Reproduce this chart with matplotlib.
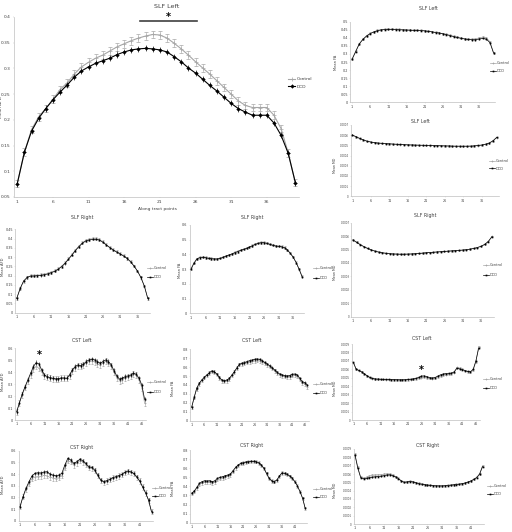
import matplotlib
matplotlib.use('Agg')
import matplotlib.pyplot as plt
from matplotlib.lines import Line2D
import numpy as np

W, H = 512, 532

# ---------------- data ----------------
# SLF Left AFD (big panel)
main_ctrl = [0.076, 0.137, 0.181, 0.206, 0.222, 0.240, 0.259, 0.272, 0.289, 0.303, 0.312, 0.320, 0.326, 0.334,
             0.342, 0.348, 0.354, 0.359, 0.363, 0.366, 0.365, 0.359, 0.349, 0.338, 0.326, 0.313, 0.301, 0.289,
             0.276, 0.263, 0.250, 0.237, 0.228, 0.224, 0.224, 0.224, 0.209, 0.183, 0.136, 0.078]
main_dcd = [0.076, 0.137, 0.178, 0.203, 0.222, 0.239, 0.254, 0.268, 0.283, 0.295, 0.303, 0.310, 0.315, 0.320,
            0.327, 0.332, 0.336, 0.338, 0.339, 0.338, 0.336, 0.332, 0.323, 0.313, 0.301, 0.291, 0.279, 0.267,
            0.256, 0.244, 0.232, 0.222, 0.215, 0.209, 0.209, 0.209, 0.194, 0.170, 0.135, 0.078]

# SLF Left FA
slfl_fa_ctrl = [0.268, 0.316, 0.363, 0.392, 0.413, 0.428, 0.438, 0.446, 0.451, 0.453, 0.454, 0.454, 0.453, 0.452,
                0.451, 0.450, 0.449, 0.448, 0.447, 0.446, 0.444, 0.441, 0.438, 0.434, 0.430, 0.426, 0.421, 0.415,
                0.409, 0.403, 0.398, 0.394, 0.392, 0.391, 0.393, 0.400, 0.404, 0.400, 0.376, 0.308]
slfl_fa_dcd = [0.266, 0.314, 0.362, 0.390, 0.411, 0.426, 0.436, 0.444, 0.449, 0.451, 0.452, 0.452, 0.451, 0.450,
               0.449, 0.448, 0.447, 0.446, 0.446, 0.445, 0.443, 0.440, 0.437, 0.433, 0.430, 0.425, 0.420, 0.414,
               0.408, 0.402, 0.397, 0.393, 0.390, 0.388, 0.388, 0.393, 0.396, 0.392, 0.370, 0.305]

# SLF Left MD
slfl_md_ctrl = [0.000600, 0.000583, 0.000566, 0.000552, 0.000540, 0.000532, 0.000526, 0.000522, 0.000519, 0.000516,
                0.000514, 0.000512, 0.000510, 0.000508, 0.000506, 0.000505, 0.000503, 0.000502, 0.000501, 0.000500,
                0.000499, 0.000498, 0.000497, 0.000496, 0.000495, 0.000494, 0.000493, 0.000492, 0.000491, 0.000491,
                0.000491, 0.000491, 0.000492, 0.000494, 0.000497, 0.000502, 0.000510, 0.000521, 0.000543, 0.000576]
slfl_md_dcd = [0.000602, 0.000585, 0.000568, 0.000553, 0.000541, 0.000533, 0.000527, 0.000523, 0.000520, 0.000517,
               0.000515, 0.000513, 0.000511, 0.000509, 0.000507, 0.000505, 0.000504, 0.000503, 0.000502, 0.000501,
               0.000500, 0.000499, 0.000498, 0.000497, 0.000496, 0.000495, 0.000494, 0.000493, 0.000492, 0.000492,
               0.000492, 0.000492, 0.000493, 0.000495, 0.000499, 0.000504, 0.000512, 0.000523, 0.000545, 0.000578]

# SLF Right AFD
slfr_afd_ctrl = [0.077, 0.130, 0.170, 0.189, 0.199, 0.200, 0.202, 0.204, 0.208, 0.212, 0.219, 0.226, 0.237, 0.251,
                 0.269, 0.291, 0.314, 0.338, 0.359, 0.377, 0.390, 0.396, 0.400, 0.400, 0.395, 0.382, 0.367, 0.352,
                 0.340, 0.329, 0.319, 0.307, 0.294, 0.276, 0.252, 0.225, 0.190, 0.144, 0.077]
slfr_afd_dcd = [0.077, 0.131, 0.171, 0.190, 0.198, 0.198, 0.200, 0.201, 0.205, 0.209, 0.216, 0.223, 0.234, 0.248,
                0.266, 0.288, 0.311, 0.335, 0.356, 0.374, 0.387, 0.392, 0.396, 0.396, 0.392, 0.380, 0.365, 0.351,
                0.338, 0.327, 0.317, 0.306, 0.293, 0.275, 0.252, 0.225, 0.190, 0.144, 0.077]

# SLF Right FA
slfr_fa_ctrl = [0.305, 0.342, 0.371, 0.380, 0.382, 0.380, 0.376, 0.373, 0.371, 0.370, 0.374, 0.381, 0.390, 0.397,
                0.404, 0.413, 0.420, 0.429, 0.436, 0.443, 0.451, 0.460, 0.469, 0.476, 0.481, 0.481, 0.476, 0.469,
                0.463, 0.458, 0.456, 0.453, 0.447, 0.431, 0.408, 0.381, 0.345, 0.300, 0.255]
slfr_fa_dcd = [0.299, 0.339, 0.369, 0.378, 0.380, 0.378, 0.373, 0.371, 0.369, 0.369, 0.373, 0.380, 0.389, 0.396,
               0.403, 0.412, 0.419, 0.428, 0.434, 0.441, 0.450, 0.459, 0.468, 0.475, 0.480, 0.480, 0.475, 0.468,
               0.462, 0.457, 0.455, 0.452, 0.446, 0.430, 0.407, 0.380, 0.344, 0.299, 0.249]

# SLF Right MD
slfr_md_ctrl = [0.000573, 0.000555, 0.000538, 0.000522, 0.000509, 0.000498, 0.000489, 0.000482, 0.000477, 0.000473,
                0.000470, 0.000468, 0.000467, 0.000466, 0.000466, 0.000467, 0.000468, 0.000470, 0.000472, 0.000474,
                0.000476, 0.000478, 0.000480, 0.000482, 0.000484, 0.000486, 0.000488, 0.000490, 0.000492, 0.000494,
                0.000496, 0.000499, 0.000503, 0.000508, 0.000515, 0.000525, 0.000539, 0.000561, 0.000598]
slfr_md_dcd = [0.000571, 0.000553, 0.000536, 0.000521, 0.000508, 0.000497, 0.000488, 0.000481, 0.000476, 0.000472,
               0.000469, 0.000467, 0.000466, 0.000465, 0.000465, 0.000466, 0.000467, 0.000469, 0.000471, 0.000473,
               0.000476, 0.000478, 0.000480, 0.000482, 0.000484, 0.000486, 0.000488, 0.000490, 0.000492, 0.000494,
               0.000496, 0.000499, 0.000503, 0.000508, 0.000515, 0.000524, 0.000538, 0.000560, 0.000596]

# CST Left AFD
cstl_afd_ctrl = [0.070, 0.143, 0.213, 0.272, 0.325, 0.378, 0.425, 0.448, 0.433, 0.402, 0.370, 0.358, 0.351, 0.346,
                 0.342, 0.344, 0.349, 0.350, 0.348, 0.372, 0.410, 0.437, 0.452, 0.448, 0.458, 0.478, 0.490, 0.494,
                 0.488, 0.470, 0.458, 0.475, 0.491, 0.476, 0.448, 0.400, 0.355, 0.330, 0.338, 0.352, 0.360, 0.370,
                 0.383, 0.375, 0.336, 0.270, 0.140]
cstl_afd_dcd = [0.070, 0.145, 0.218, 0.279, 0.335, 0.391, 0.447, 0.480, 0.469, 0.419, 0.377, 0.363, 0.355, 0.349,
                0.344, 0.346, 0.352, 0.352, 0.349, 0.377, 0.419, 0.447, 0.461, 0.455, 0.466, 0.489, 0.503, 0.508,
                0.503, 0.489, 0.475, 0.489, 0.503, 0.489, 0.461, 0.413, 0.369, 0.341, 0.349, 0.363, 0.369, 0.377,
                0.391, 0.383, 0.349, 0.293, 0.173]

# CST Left FA
cstl_fa_ctrl = [0.150, 0.258, 0.358, 0.414, 0.452, 0.482, 0.508, 0.533, 0.551, 0.544, 0.516, 0.478, 0.447, 0.440,
                0.447, 0.468, 0.507, 0.546, 0.590, 0.628, 0.638, 0.644, 0.652, 0.660, 0.664, 0.670, 0.673, 0.670,
                0.657, 0.641, 0.625, 0.607, 0.585, 0.560, 0.534, 0.514, 0.502, 0.494, 0.490, 0.492, 0.505, 0.508,
                0.496, 0.460, 0.424, 0.410, 0.380]
cstl_fa_dcd = [0.150, 0.262, 0.363, 0.419, 0.456, 0.486, 0.512, 0.538, 0.557, 0.550, 0.523, 0.486, 0.456, 0.449,
               0.456, 0.475, 0.512, 0.550, 0.594, 0.632, 0.643, 0.650, 0.662, 0.673, 0.680, 0.688, 0.692, 0.688,
               0.673, 0.654, 0.636, 0.617, 0.594, 0.568, 0.542, 0.523, 0.512, 0.505, 0.501, 0.505, 0.520, 0.523,
               0.512, 0.475, 0.437, 0.426, 0.400]

# CST Left MD
cstl_md_ctrl = [0.000680, 0.000601, 0.000585, 0.000568, 0.000546, 0.000523, 0.000503, 0.000490, 0.000484, 0.000482,
                0.000481, 0.000480, 0.000479, 0.000478, 0.000477, 0.000476, 0.000475, 0.000474, 0.000474, 0.000475,
                0.000477, 0.000479, 0.000482, 0.000486, 0.000493, 0.000502, 0.000505, 0.000500, 0.000492, 0.000490,
                0.000496, 0.000510, 0.000522, 0.000532, 0.000538, 0.000540, 0.000545, 0.000562, 0.000622, 0.000612,
                0.000600, 0.000585, 0.000572, 0.000565, 0.000590, 0.000690, 0.000870]
cstl_md_dcd = [0.000683, 0.000603, 0.000587, 0.000570, 0.000548, 0.000525, 0.000505, 0.000492, 0.000486, 0.000484,
               0.000483, 0.000482, 0.000481, 0.000480, 0.000479, 0.000478, 0.000477, 0.000476, 0.000476, 0.000477,
               0.000480, 0.000483, 0.000487, 0.000493, 0.000505, 0.000520, 0.000522, 0.000514, 0.000502, 0.000498,
               0.000503, 0.000520, 0.000535, 0.000545, 0.000550, 0.000552, 0.000555, 0.000570, 0.000612, 0.000605,
               0.000598, 0.000585, 0.000575, 0.000572, 0.000600, 0.000700, 0.000850]

# CST Right AFD
cstr_afd_ctrl = [0.120, 0.204, 0.270, 0.318, 0.360, 0.375, 0.378, 0.380, 0.388, 0.385, 0.372, 0.366, 0.360, 0.368,
                 0.385, 0.455, 0.515, 0.505, 0.478, 0.495, 0.515, 0.503, 0.480, 0.455, 0.448, 0.427, 0.386, 0.346,
                 0.331, 0.340, 0.351, 0.366, 0.374, 0.383, 0.394, 0.410, 0.421, 0.416, 0.402, 0.374, 0.340, 0.289,
                 0.238, 0.176, 0.077]
cstr_afd_dcd = [0.120, 0.206, 0.277, 0.334, 0.383, 0.406, 0.411, 0.409, 0.417, 0.420, 0.400, 0.391, 0.386, 0.391,
                0.406, 0.477, 0.534, 0.520, 0.491, 0.506, 0.526, 0.514, 0.491, 0.463, 0.457, 0.434, 0.391, 0.349,
                0.334, 0.343, 0.354, 0.369, 0.377, 0.386, 0.397, 0.414, 0.426, 0.420, 0.406, 0.377, 0.343, 0.291,
                0.240, 0.177, 0.077]

# CST Right FA
cstr_fa_ctrl = [0.318, 0.342, 0.380, 0.420, 0.436, 0.446, 0.444, 0.446, 0.438, 0.447, 0.472, 0.484, 0.492, 0.504,
                0.512, 0.524, 0.563, 0.602, 0.630, 0.650, 0.658, 0.666, 0.670, 0.673, 0.673, 0.670, 0.658, 0.633,
                0.596, 0.541, 0.486, 0.460, 0.450, 0.468, 0.511, 0.546, 0.540, 0.529, 0.511, 0.486, 0.450, 0.403,
                0.340, 0.267, 0.157]
cstr_fa_dcd = [0.323, 0.349, 0.389, 0.433, 0.451, 0.462, 0.459, 0.462, 0.451, 0.462, 0.488, 0.499, 0.506, 0.517,
               0.525, 0.536, 0.572, 0.609, 0.635, 0.653, 0.660, 0.668, 0.672, 0.675, 0.675, 0.672, 0.660, 0.635,
               0.598, 0.543, 0.488, 0.462, 0.451, 0.470, 0.514, 0.550, 0.543, 0.532, 0.514, 0.488, 0.451, 0.404,
               0.341, 0.268, 0.158]

# CST Right MD
cstr_md_ctrl = [0.000840, 0.000680, 0.000560, 0.000552, 0.000560, 0.000575, 0.000585, 0.000588, 0.000590, 0.000592,
                0.000596, 0.000602, 0.000600, 0.000590, 0.000570, 0.000548, 0.000518, 0.000502, 0.000507, 0.000512,
                0.000507, 0.000497, 0.000487, 0.000479, 0.000473, 0.000468, 0.000464, 0.000461, 0.000459, 0.000458,
                0.000458, 0.000460, 0.000463, 0.000467, 0.000471, 0.000475, 0.000479, 0.000485, 0.000493, 0.000504,
                0.000518, 0.000537, 0.000560, 0.000604, 0.000700]
cstr_md_dcd = [0.000828, 0.000668, 0.000555, 0.000545, 0.000548, 0.000556, 0.000562, 0.000566, 0.000570, 0.000574,
               0.000580, 0.000588, 0.000590, 0.000582, 0.000565, 0.000545, 0.000515, 0.000500, 0.000505, 0.000510,
               0.000505, 0.000495, 0.000485, 0.000478, 0.000472, 0.000467, 0.000463, 0.000460, 0.000458, 0.000457,
               0.000457, 0.000459, 0.000462, 0.000466, 0.000470, 0.000474, 0.000478, 0.000484, 0.000492, 0.000503,
               0.000517, 0.000535, 0.000558, 0.000600, 0.000690]

# standard error per panel (control, dcd)
errors = {
    'main': (0.0075, 0.006), 'slfl_fa': (0.006, 0.005), 'slfl_md': (0.000006, 0.000005),
    'slfr_afd': (0.008, 0.006), 'slfr_fa': (0.008, 0.006), 'slfr_md': (0.000005, 0.000004),
    'cstl_afd': (0.025, 0.018), 'cstl_fa': (0.02, 0.015), 'cstl_md': (0.00001, 0.000008),
    'cstr_afd': (0.022, 0.015), 'cstr_fa': (0.018, 0.012), 'cstr_md': (0.000012, 0.000008),
}

# ---------------- layout (pixels) ----------------
# name, title, ylabel, ctrl, dcd, (ymin, ymax, ystep), is_md, box(x0, x1, top, bottom),
# title xy, ylabel xy, legend (x, ycenter, gap)
panels = [
    ('main', 'SLF Left', 'Mean AFD', main_ctrl, main_dcd, (0.05, 0.4, 0.05), False,
     (13.7, 298.9, 17, 197), (167, 6), (1, 107), (288, 83, 8)),
    ('slfl_fa', 'SLF Left', 'Mean FA', slfl_fa_ctrl, slfl_fa_dcd, (0, 0.5, 0.05), False,
     (350.2, 495.4, 21.7, 102.3), (428, 8), (336, 62), (490, 67, 8)),
    ('slfl_md', 'SLF Left', 'Mean MD', slfl_md_ctrl, slfl_md_dcd, (0, 0.0007, 0.0001), True,
     (350.5, 498.5, 125, 196.3), (420, 121), (335, 165), (489, 165, 6.5)),
    ('slfr_md', 'SLF Right', 'Mean MD', slfr_md_ctrl, slfr_md_dcd, (0, 0.0007, 0.0001), True,
     (351.2, 493.8, 222.7, 316.7), (425, 216), (335, 272), (483, 270, 9)),
    ('cstl_md', 'CST Left', 'Mean MD', cstl_md_ctrl, cstl_md_dcd, (0, 0.0009, 0.0001), True,
     (352, 480, 344, 420), (422, 339), (335, 388), (483, 383.5, 9)),
    ('cstr_md', 'CST Right', 'Mean MD', cstr_md_ctrl, cstr_md_dcd, (0, 0.0009, 0.0001), True,
     (353.5, 484, 449, 524), (428, 445), (335, 490), (487, 490, 8)),
    ('slfr_afd', 'SLF Right', 'Mean AFD', slfr_afd_ctrl, slfr_afd_dcd, (0, 0.45, 0.05), False,
     (15, 149.5, 229.3, 312.7), (82, 218), (3, 267), (147, 272.5, 9)),
    ('slfr_fa', 'SLF Right', 'Mean FA', slfr_fa_ctrl, slfr_fa_dcd, (0, 0.6, 0.1), False,
     (189.5, 303.5, 225, 313.3), (252, 218), (180, 270), (313, 273, 10)),
    ('cstl_afd', 'CST Left', 'Mean AFD', cstl_afd_ctrl, cstl_afd_dcd, (0, 0.6, 0.1), False,
     (15.3, 146, 348.3, 420), (82, 340), (3, 382), (147, 387, 10)),
    ('cstl_fa', 'CST Left', 'Mean FA', cstl_fa_ctrl, cstl_fa_dcd, (0, 0.8, 0.1), False,
     (190.4, 308.6, 349.3, 420.7), (252, 340), (173, 388), (313, 388.5, 9)),
    ('cstr_afd', 'CST Right', 'Mean AFD', cstr_afd_ctrl, cstr_afd_dcd, (0, 0.6, 0.1), False,
     (18.5, 153, 450.7, 520.7), (82, 448), (3, 485), (152, 492, 8)),
    ('cstr_fa', 'CST Right', 'Mean FA', cstr_fa_ctrl, cstr_fa_dcd, (0, 0.8, 0.1), False,
     (190.4, 306.5, 450, 522.7), (252, 446), (173, 488), (313, 493, 8)),
]

CTRL_C = '#a6a6a6'
DCD_C = '#000000'
AXIS_C = '#bfbfbf'

fig = plt.figure(figsize=(W / 100, H / 100), dpi=100)


def fx(x):
    return x / W


def fy(y):
    return 1 - y / H


axes = {}
for (name, title, ylabel, ctrl, dcd, yr, is_md, box, txy, lxy, leg) in panels:
    big = name == 'main'
    x0, x1, top, bot = box
    ax = fig.add_axes([fx(x0), fy(bot), (x1 - x0) / W, (bot - top) / H])
    axes[name] = ax
    n = len(dcd)
    x = np.arange(1, n + 1)
    ce, de = errors[name]
    ms = 2.2 if big else 1.2
    lw = 0.8 if big else 0.5
    ax.errorbar(x, ctrl, yerr=ce, color=CTRL_C, lw=lw, marker='+', ms=ms + 0.6, mew=0.5,
                elinewidth=0.4, capsize=1.2 if big else 0.6, capthick=0.4, zorder=2)
    ax.errorbar(x, dcd, yerr=de, color=DCD_C, lw=lw, marker='D' if big else 's', ms=ms, mew=0,
                elinewidth=0.4, capsize=1.2 if big else 0.6, capthick=0.4, zorder=3)

    ymin, ymax, ystep = yr
    ax.set_xlim(0.5, n + 0.5)
    ax.set_ylim(ymin, ymax)
    yt = np.round(np.arange(ymin, ymax + ystep / 2, ystep), 6)
    ax.set_yticks(yt)
    if is_md:
        ax.set_yticklabels(['0' if v == 0 else f'{v:.4f}' for v in yt])
    else:
        ax.set_yticklabels([f'{v:g}' for v in yt])
    xt = np.arange(1, n + 1, 5)
    ax.set_xticks(xt)
    ax.set_xticklabels([str(v) for v in xt])
    fs = 3.2 if big else 2.4
    ax.tick_params(axis='both', labelsize=fs, length=1 if big else 0.6, width=0.3,
                   color=AXIS_C, pad=1.5 if big else 1, labelcolor='#404040')
    if is_md:
        ax.tick_params(axis='y', labelsize=1.9, pad=0.6)
    for s in ['top', 'right']:
        ax.spines[s].set_visible(False)
    for s in ['left', 'bottom']:
        ax.spines[s].set_color(AXIS_C)
        ax.spines[s].set_linewidth(0.5)
    ax.patch.set_alpha(0)

    fig.text(fx(txy[0]), fy(txy[1]), title, ha='center', va='center',
             fontsize=4.6 if big else 3.4, color='#404040')
    fig.text(fx(lxy[0]), fy(lxy[1]), ylabel, ha='center', va='center', rotation=90,
             fontsize=3.2 if big else (2.3 if is_md else 2.6), color='#404040')

    lfs = 3.2 if big else 2.5
    lx, lyc, gap = leg
    hs = [Line2D([], [], color=CTRL_C, lw=lw, marker='+', ms=ms + 0.6, mew=0.5),
          Line2D([], [], color=DCD_C, lw=lw, marker='D' if big else 's', ms=ms, mew=0)]
    fpx = lfs * 100 / 72
    ax.legend(hs, ['Control', 'DCD'], loc='center left', bbox_to_anchor=(fx(lx), fy(lyc)),
              bbox_transform=fig.transFigure, frameon=False, fontsize=lfs, handlelength=1.6,
              handletextpad=0.3, borderpad=0, borderaxespad=0,
              labelspacing=max(gap - fpx, 0) / fpx, labelcolor='#404040')

# x label of the big panel
fig.text(fx(157), fy(209), 'Along tract points', ha='center', va='center', fontsize=3.2, color='#404040')

# significance marks
ax = axes['main']
ax.plot([18.2, 26.2], [0.3928, 0.3928], color='#404040', lw=1.2, clip_on=False)
ax.text(22.2, 0.4005, '*', ha='center', va='center', fontsize=7, fontweight='bold', clip_on=False)
axes['cstl_afd'].text(9, 0.54, '*', ha='center', va='center', fontsize=7, fontweight='bold')
axes['cstl_md'].text(26, 0.000592, '*', ha='center', va='center', fontsize=7, fontweight='bold')

fig.savefig('out.png', dpi=100, facecolor='white')
